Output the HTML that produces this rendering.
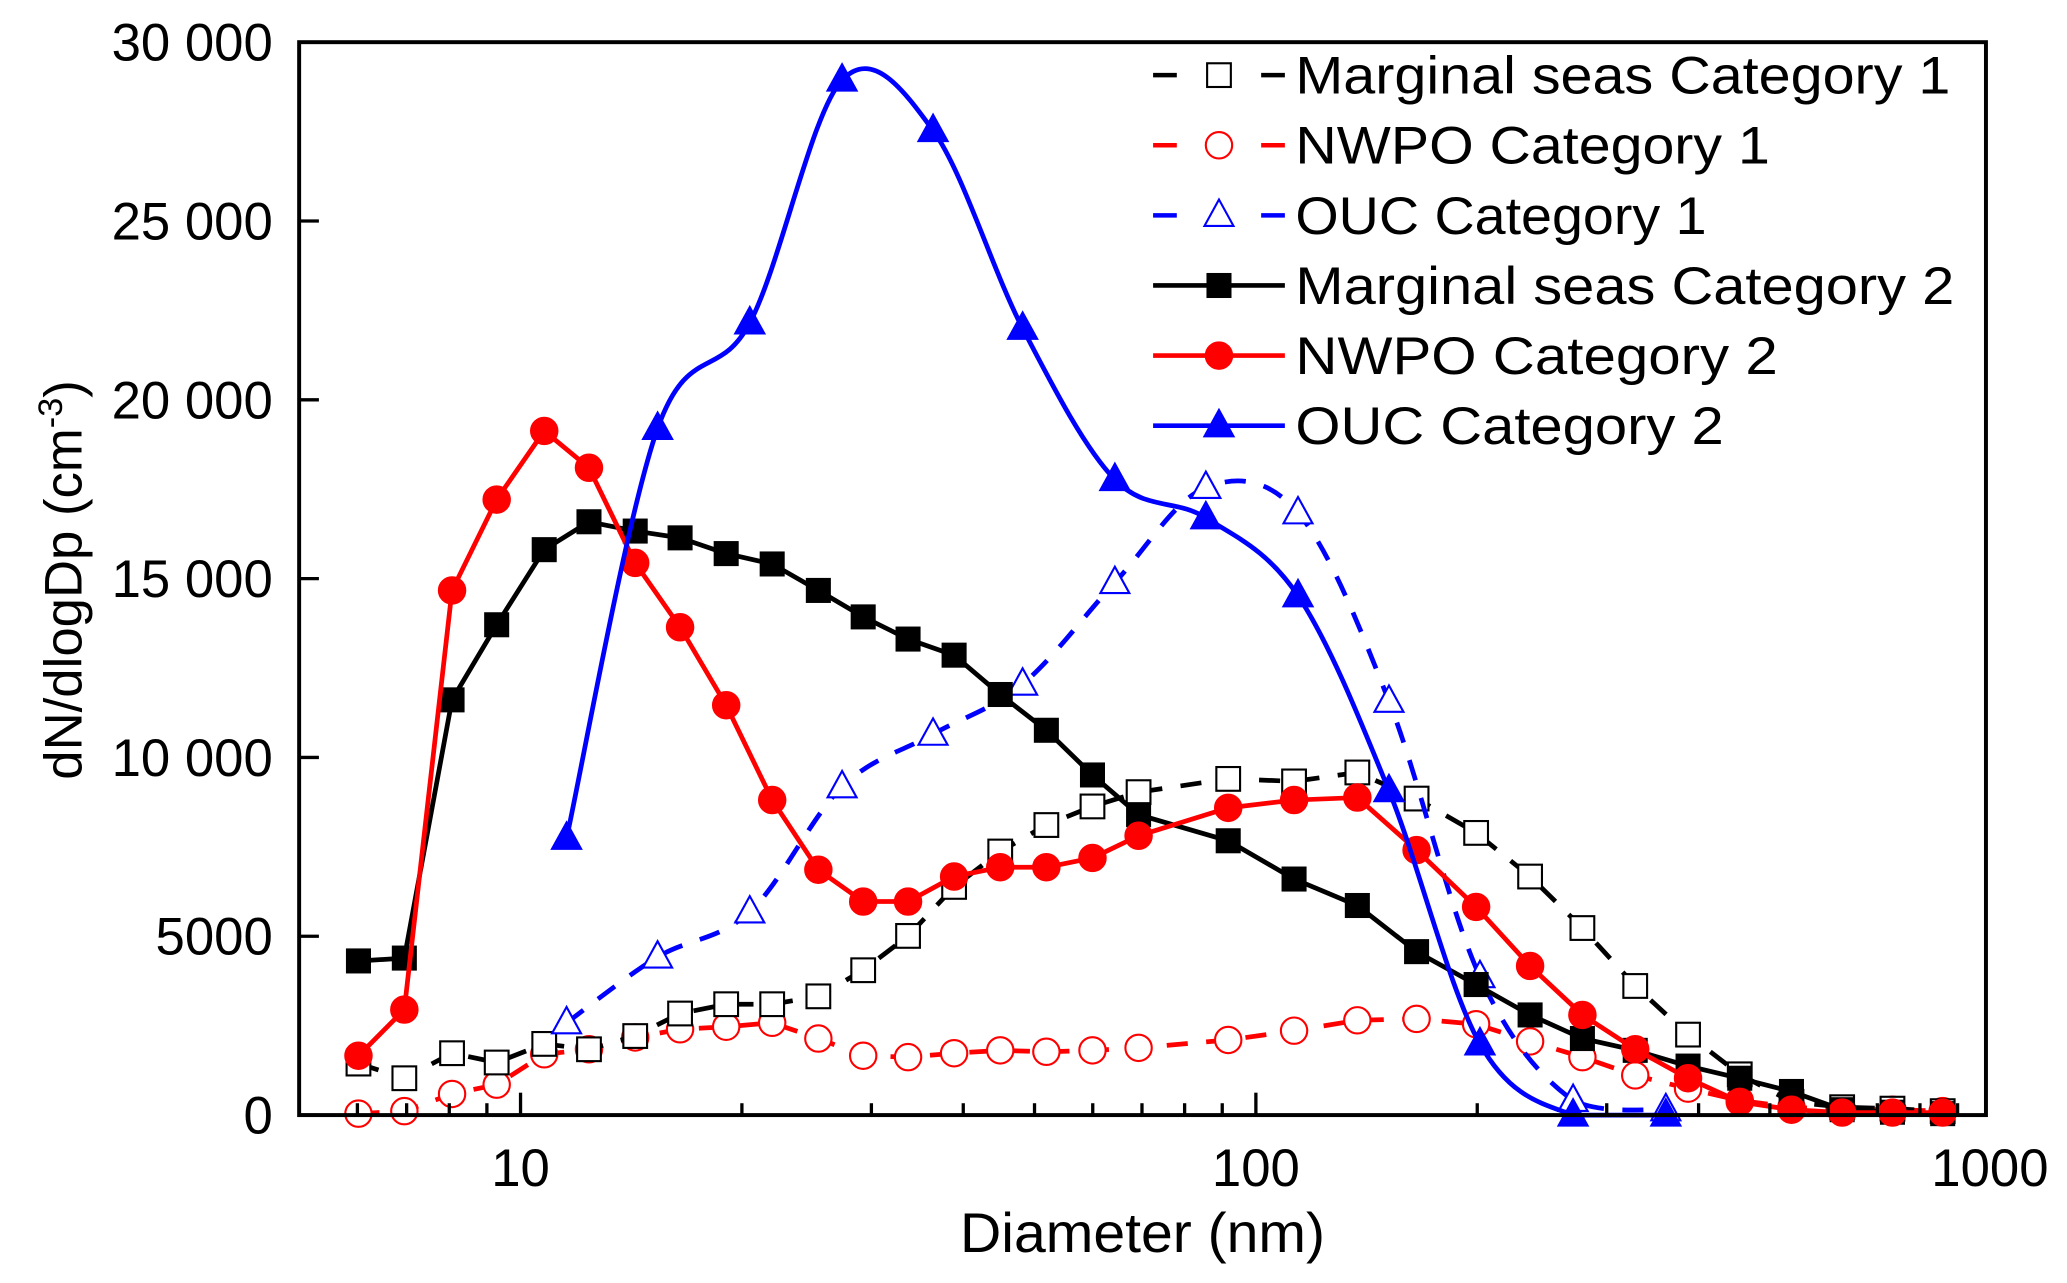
<!DOCTYPE html>
<html><head><meta charset="utf-8"><style>
html,body{margin:0;padding:0;background:#fff;}
svg{display:block;}
text{font-family:"Liberation Sans",sans-serif;fill:#000;}
</style></head><body>
<svg id="chart" width="2067" height="1283" viewBox="0 0 1568.5 973.4" preserveAspectRatio="none" xmlns="http://www.w3.org/2000/svg">
<g id="plot"></g>
</svg>
<script>
const dGrid = [6.02,6.95,8.07,9.28,10.77,12.39,14.32,16.48,19.04,21.99,25.41,29.24,33.65,38.87,44.91,51.89,59.95,69.26,91.7,112.7,137.4,165.4,199.3,236,278,328,387,455,535,627,734,859];
const marginalCat1 = [1440,1030,1730,1470,1990,1840,2210,2840,3100,3100,3320,4050,5010,6380,7370,8110,8630,9030,9400,9330,9580,8850,7890,6670,5230,3610,2250,1140,370,220,180,110];
const nwpoCat1 = [40,110,590,850,1700,1840,2170,2400,2470,2580,2140,1660,1620,1730,1810,1770,1810,1880,2100,2360,2650,2690,2540,2060,1620,1110,740,410,220,150,150,110];
const marginalCat2 = [4310,4390,11610,13710,15810,16590,16330,16140,15700,15410,14670,13930,13310,12860,11760,10760,9510,8400,7670,6600,5860,4570,3650,2800,2140,1810,1370,1030,660,150,80,40];
const nwpoCat2 = [1660,2950,14670,17210,19130,18100,15440,13640,11460,8810,6860,5970,5970,6670,6930,6930,7190,7810,8590,8810,8880,7410,5820,4170,2800,1840,1030,370,150,70,70,70];
const oucGrid = [11.55,15.36,20.5,27.37,36.39,48.17,64.3,85.5,114.1,151.7,201.7,270,361];
const oucCat1 = [2580,4420,5680,9180,10650,12050,14890,17550,16840,11570,3870,410,150];
const oucCat2 = [7740,19200,22150,28940,27530,22000,17770,16700,14520,9070,1990,0,0];
const yTicks = [0,5000,10000,15000,20000,25000,30000];
const yTickLabels = ["0","5000","10 000","15 000","20 000","25 000","30 000"];
const xMajor = [10,100,1000];
const xMajorLabels = ["10","100","1000"];
const xMinor = [6,7,8,9,20,30,40,50,60,70,80,90,200,300,400,500,600,700,800,900];

const L=227,R=1507,T=32,B=846;
function xS(d){return 395+558*(Math.log10(d)-1);}
function yS(v){return B-v*(B-T)/30000;}
const NS="http://www.w3.org/2000/svg";
const g=document.getElementById('plot');
function mk(tag,attrs,parent){const e=document.createElementNS(NS,tag);for(const k in attrs)e.setAttribute(k,attrs[k]);(parent||g).appendChild(e);return e;}
function pts(xs,ys){return xs.map((d,i)=>[xS(d),yS(ys[i])]);}
function polyPath(p){return p.map((q,i)=>(i?'L':'M')+q[0].toFixed(1)+' '+q[1].toFixed(1)).join(' ');}
function splinePath(p){let s='M'+p[0][0]+' '+p[0][1];for(let i=0;i<p.length-1;i++){const p0=p[Math.max(0,i-1)],p1=p[i],p2=p[i+1],p3=p[Math.min(p.length-1,i+2)];const c1=[p1[0]+(p2[0]-p0[0])/6,p1[1]+(p2[1]-p0[1])/6],c2=[p2[0]-(p3[0]-p1[0])/6,p2[1]-(p3[1]-p1[1])/6];c1[1]=Math.min(c1[1],B);c2[1]=Math.min(c2[1],B);s+=' C'+c1.join(' ')+' '+c2.join(' ')+' '+p2.join(' ');}return s;}
function marker(type,x,y,color,filled,parent){
  const fill=filled?color:'#fff';let e;
  if(type==='sq'){e=mk('rect',{x:x-9,y:y-9,width:18,height:18,fill:fill,stroke:color,'stroke-width':filled?1:1.6},parent);}
  else if(type==='ci'){e=mk('circle',{cx:x,cy:y,r:10,fill:fill,stroke:color,'stroke-width':1.6},parent);}
  else {e=mk('polygon',{points:(x)+','+(y-12)+' '+(x-11)+','+(y+8)+' '+(x+11)+','+(y+8),fill:fill,stroke:color,'stroke-width':1.6},parent);}
  return e;
}
function series(name,xs,ys,color,dashed,type,filled,smooth){
  const sg=mk('g',{});
  
  
  const p=pts(xs,ys);
  const line=mk('path',{d:smooth?splinePath(p):polyPath(p),fill:'none',stroke:color,'stroke-width':3.6,'stroke-dasharray':dashed?'16 14':'none','stroke-linejoin':'round'},sg);
  
  
  p.forEach((q,i)=>{const m=marker(type,q[0],q[1],color,filled,sg);
    
    });
}
series('nwpo-category-1',dGrid,nwpoCat1,'#ff0000',true,'ci',false,false);
series('marginal-seas-category-1',dGrid,marginalCat1,'#000',true,'sq',false,false);
series('ouc-category-1',oucGrid,oucCat1,'#0000ff',true,'tr',false,true);
series('marginal-seas-category-2',dGrid,marginalCat2,'#000',false,'sq',true,false);
series('nwpo-category-2',dGrid,nwpoCat2,'#ff0000',false,'ci',true,false);
series('ouc-category-2',oucGrid,oucCat2,'#0000ff',false,'tr',true,true);

const fr=mk('rect',{x:L,y:T,width:R-L,height:B-T,fill:'none',stroke:'#000','stroke-width':3});


yTicks.forEach((v,i)=>{const y=yS(v);
  const t=mk('line',{x1:L,x2:L+15,y1:y,y2:y,stroke:'#000','stroke-width':2.5});
  
  
  const tx=mk('text',{x:207,y:y+14,'text-anchor':'end','font-size':40});
  tx.textContent=yTickLabels[i];
  
  
});
xMajor.forEach((d,i)=>{const x=xS(d);
  if(d<1000){const t=mk('line',{x1:x,x2:x,y1:B,y2:B-17,stroke:'#000','stroke-width':2.5});
  
  }
  const tx=mk('text',{x:Math.min(x,1510),y:900,'text-anchor':'middle','font-size':40});
  tx.textContent=xMajorLabels[i];
  
  
});
xMinor.forEach(d=>{const x=xS(d);
  const t=mk('line',{x1:x,x2:x,y1:B,y2:B-9,stroke:'#000','stroke-width':2.5});
  
  
});
const xt=mk('text',{x:867,y:950,'text-anchor':'middle','font-size':42,textLength:277,lengthAdjust:'spacingAndGlyphs'});
xt.textContent='Diameter (nm)';


const yt=mk('text',{x:0,y:0,'text-anchor':'middle','font-size':40,transform:'translate(62,440) rotate(-90)'});


yt.innerHTML='dN/dlogDp (cm<tspan dy="-15" font-size="26">-3</tspan><tspan dy="15">)</tspan>';

const leg=[['Marginal seas  Category 1','#000',true,'sq',false,497],['NWPO  Category 1','#ff0000',true,'ci',false,360],['OUC  Category 1','#0000ff',true,'tr',false,312],['Marginal seas  Category 2','#000',false,'sq',true,500],['NWPO  Category 2','#ff0000',false,'ci',true,366],['OUC  Category 2','#0000ff',false,'tr',true,325]];
leg.forEach((e,i)=>{const y=57+i*53.2;
  const lg=mk('g',{});
  
  
  if(e[2]){mk('line',{x1:875,x2:893,y1:y,y2:y,stroke:e[1],'stroke-width':3.5},lg);mk('line',{x1:957,x2:975,y1:y,y2:y,stroke:e[1],'stroke-width':3.5},lg);}
  else mk('line',{x1:875,x2:975,y1:y,y2:y,stroke:e[1],'stroke-width':3.5},lg);
  marker(e[3],925,y,e[1],e[4],lg);
  const tx=mk('text',{x:983,y:y+14,'font-size':40,textLength:e[5],lengthAdjust:'spacingAndGlyphs'},lg);
  tx.textContent=e[0];
});
</script>
</body></html>
